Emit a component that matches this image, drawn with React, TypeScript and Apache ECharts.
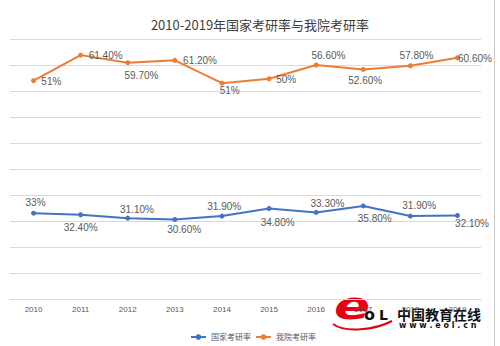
import React, { useEffect, useRef } from "react";
import * as echarts from "echarts";

const years = ["2010", "2011", "2012", "2013", "2014", "2015", "2016", "2017", "2018", "2019"];
const seriesNames = ["国家考研率", "我院考研率"];

// National rate: plotted value equals its printed label
const nationalRate = [33, 32.4, 31.1, 30.6, 31.9, 34.8, 33.3, 35.8, 31.9, 32.1];
const nationalLabels = ["33%", "32.40%", "31.10%", "30.60%", "31.90%", "34.80%", "33.30%", "35.80%", "31.90%", "32.10%"];

// College rate: heights as drawn in the picture (on the same 0-100 scale), with the printed labels
const collegeRate = [84.0, 93.8, 90.9, 91.8, 83.0, 84.7, 90.0, 88.3, 89.7, 92.8];
const collegeLabels = ["51%", "61.40%", "59.70%", "61.20%", "51%", "50%", "56.60%", "52.60%", "57.80%", "60.60%"];

// label centre offsets relative to each point (layout only)
const nationalLabelOffsets = [
  [2, -10.7], [0, 12.7], [9.2, -8.7], [9.3, 10], [2.3, -9.4],
  [8.6, 13.6], [11.3, -9], [11.5, 12.3], [8.9, -10.7], [14.6, 8],
];
const collegeLabelOffsets = [
  [17.8, 1.3], [25, 0], [13.7, 12.6], [25.2, 0.4], [7.7, 7.4],
  [17.2, 0.3], [12.3, -10], [2, 11.4], [6.2, -10.7], [17.5, 0.6],
];

const BLUE = "#4472C4";
const ORANGE = "#ED7D31";
const GRID = "#d9d9d9";
const TEXT = "#595959";
const FONT = "'Liberation Sans', 'Noto Sans CJK SC', sans-serif";

function buildData(values: number[], offsets: number[][]) {
  return values.map((v, i) => ({
    value: v,
    label: { position: "inside", offset: offsets[i] },
  }));
}

export default function App() {
  const ref = useRef<HTMLDivElement>(null);
  useEffect(() => {
    if (!ref.current) return;
    const chart = echarts.init(ref.current, undefined, { renderer: "svg" });
    const labelStyle = {
      show: true,
      color: TEXT,
      fontSize: 10,
      fontFamily: FONT,
    };
    chart.setOption({
      animation: false,
      backgroundColor: "#ffffff",
      title: {
        text: "2010-2019年国家考研率与我院考研率",
        left: 255,
        textAlign: "center",
        top: 13,
        textStyle: { fontSize: 13, fontWeight: "normal", color: "#404040", fontFamily: "'Noto Sans CJK SC', sans-serif" },
      },
      grid: { left: 10, right: 19, top: 39, bottom: 47, containLabel: false },
      legend: {
        data: seriesNames,
        left: 185,
        top: 328,
        itemWidth: 15,
        itemHeight: 7,
        itemGap: 4,
        textStyle: { fontSize: 8, color: TEXT, fontFamily: "'Noto Sans CJK SC', sans-serif" },
      },
      xAxis: {
        type: "category",
        data: years,
        boundaryGap: true,
        axisLine: { lineStyle: { color: GRID, width: 1 } },
        axisTick: { show: false },
        axisLabel: { color: TEXT, fontSize: 8, margin: 6, fontFamily: FONT },
      },
      yAxis: {
        type: "value",
        min: 0,
        max: 100,
        interval: 10,
        axisLine: { show: false },
        axisTick: { show: false },
        axisLabel: { show: false },
        splitLine: { lineStyle: { color: GRID, width: 1 } },
      },
      series: [
        {
          name: seriesNames[0],
          type: "line",
          data: buildData(nationalRate, nationalLabelOffsets),
          symbol: "circle",
          symbolSize: 5,
          itemStyle: { color: BLUE },
          lineStyle: { color: BLUE, width: 2 },
          label: { ...labelStyle, formatter: (p: any) => nationalLabels[p.dataIndex] },
        },
        {
          name: seriesNames[1],
          type: "line",
          data: buildData(collegeRate, collegeLabelOffsets),
          symbol: "circle",
          symbolSize: 5,
          itemStyle: { color: ORANGE },
          lineStyle: { color: ORANGE, width: 2 },
          label: { ...labelStyle, formatter: (p: any) => collegeLabels[p.dataIndex] },
        },
      ],
      graphic: [
        { type: "line", shape: { x1: 494.5, y1: 0, x2: 494.5, y2: 346 }, style: { stroke: "#c8c8c8", lineWidth: 1 } },
        {
          type: "group",
          z: 100,
          children: [
            { type: "text", x: 334, y: 325, scaleX: 1.4, originX: 0, originY: 0, style: { text: "e", fontSize: 38, fontWeight: "bold", fontStyle: "italic", fill: "#e60012", fontFamily: "'DejaVu Sans', sans-serif", textVerticalAlign: "bottom" } },
            { type: "bezierCurve", shape: { x1: 333, y1: 324, x2: 392, y2: 321, cpx1: 345, cpy1: 333, cpx2: 375, cpy2: 330 }, style: { stroke: "#e60012", lineWidth: 2, fill: null } },
            { type: "text", x: 364, y: 322, style: { text: "o", fontSize: 16, fontWeight: "bold", fill: "#111", fontFamily: "'DejaVu Sans', sans-serif", textVerticalAlign: "bottom" } },
            { type: "text", x: 379, y: 322, style: { text: "L", fontSize: 14, fontWeight: "bold", fill: "#111", fontFamily: "'DejaVu Sans', sans-serif", textVerticalAlign: "bottom" } },
            { type: "text", x: 397, y: 313.5, style: { text: "中国教育在线", fontSize: 14, fontWeight: "bold", fill: "#111", fontFamily: "'Noto Sans CJK SC', sans-serif", textVerticalAlign: "middle" } },
            { type: "text", x: 399, y: 325, style: { text: "w w w . e o l . c n", fontSize: 8, fontWeight: "bold", fill: "#111", fontFamily: "'DejaVu Sans', sans-serif", textVerticalAlign: "middle" } },
          ],
        },
      ],
    });
    return () => chart.dispose();
  }, []);
  return (
    <div
      ref={ref}
      style={{ position: "fixed", left: 0, top: 0, width: 500, height: 346, background: "#fff" }}
    />
  );
}
